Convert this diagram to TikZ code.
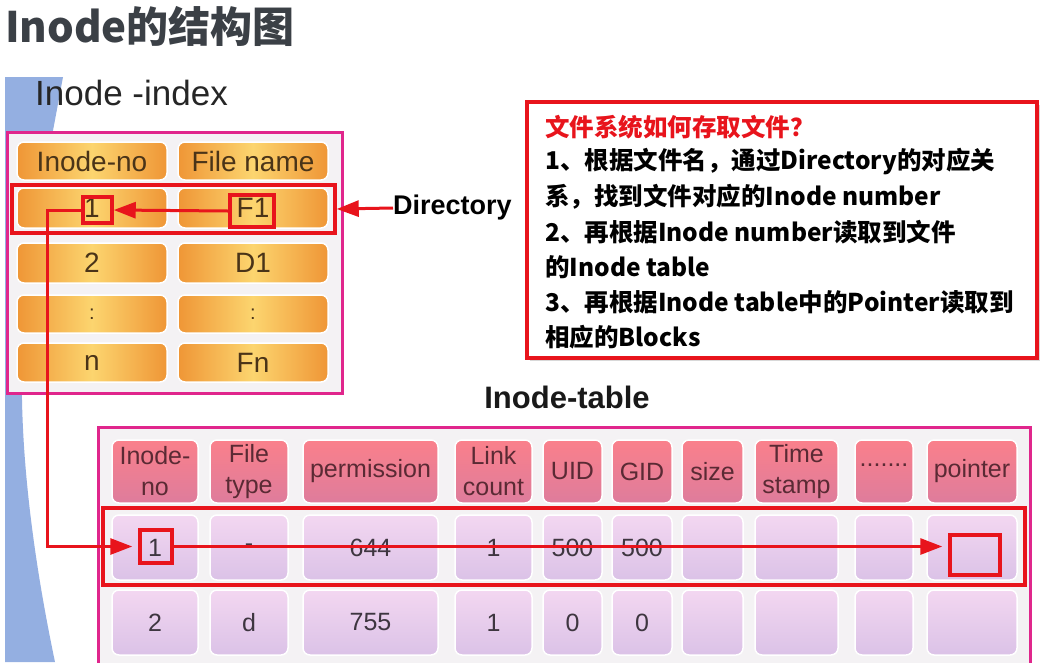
\documentclass[tikz,border=0pt]{standalone}
\usepackage{fontspec}
\setmainfont{Liberation Sans}
\newfontfamily\cjk{Noto Sans CJK SC}
\usetikzlibrary{arrows.meta,shadows}
\definecolor{magB}{HTML}{E0268C}
\definecolor{redA}{HTML}{E8141C}
\definecolor{orA}{HTML}{EF9636}
\definecolor{orB}{HTML}{FCD56F}
\definecolor{pkA}{HTML}{FA808B}
\definecolor{pkB}{HTML}{DE7C9C}
\definecolor{lvA}{HTML}{F3D7F1}
\definecolor{lvB}{HTML}{DBC2E7}
\definecolor{blueS}{HTML}{94AFE1}
\definecolor{titleC}{HTML}{3B4046}
\definecolor{brownT}{HTML}{4A3418}
\definecolor{hdrT}{HTML}{5A2A34}
\definecolor{datT}{HTML}{3E3640}
\definecolor{panel}{HTML}{F4F2F4}
\begin{document}
\begin{tikzpicture}[x=1pt,y=-1pt,
  magbox/.style={draw=magB, line width=3, fill=panel},
  cellbase/.style={rounded corners=7, draw=white, line width=1.5, inner sep=0, align=center},
  ocell/.style={cellbase, left color=orA, right color=orA, middle color=orB, text=brownT, font=\fontsize{28}{30}\selectfont, minimum width=150},
  hcell/.style={cellbase, top color=pkA, bottom color=pkB, text=hdrT, font=\fontsize{25}{31}\selectfont, minimum height=63},
  dcell/.style={cellbase, top color=lvA, bottom color=lvB, text=datT, font=\fontsize{25}{30}\selectfont, minimum height=65},
  redbox/.style={draw=redA, line width=3.5, inner sep=0},
  redarrow/.style={draw=redA, line width=3, -{Triangle[length=22pt,width=16pt]}},
  cnline/.style={anchor=west, inner sep=0, font=\cjk\bfseries\fontsize{24.5}{28}\selectfont}
]
\useasboundingbox (0,0) rectangle (1048,662);
\clip (0,0) rectangle (1048,662);
\fill[white] (0,0) rectangle (1048,662);
% blue strip
\fill[blueS] (5,77) -- (63,77) .. controls (42,190) and (20,300) .. (22,400) .. controls (24,500) and (42,600) .. (55,662) -- (5,662) -- cycle;
% title
\node[anchor=west, inner sep=0, text=titleC, font=\cjk\bfseries\fontsize{42}{46}\selectfont] (title) at (5,26) {Inode的结构图};
% Inode-index
\node[anchor=west, inner sep=0, text=black!85, font=\fontsize{35}{38}\selectfont] (idxlabel) at (35,93) {Inode -index};
\node[magbox, minimum width=335, minimum height=261, inner sep=0] (idxbox) at (174.5,262.5) {};
\node[ocell, minimum height=38] (h1) at (92,161) {Inode-no};
\node[ocell, minimum height=38] (h2) at (253,161) {File name};
\node[ocell, minimum height=40] (r1a) at (92,208) {1};
\node[ocell, minimum height=40] (r1b) at (253,208) {F1};
\node[ocell, minimum height=40] (r2a) at (92,263) {2};
\node[ocell, minimum height=40] (r2b) at (253,263) {D1};
\node[ocell, minimum height=38, font=\fontsize{20}{22}\selectfont] (r3a) at (92,314) {:};
\node[ocell, minimum height=38, font=\fontsize{20}{22}\selectfont] (r3b) at (253,314) {:};
\node[ocell, minimum height=39] (r4a) at (92,362.5) {n};
\node[ocell, minimum height=39] (r4b) at (253,362.5) {Fn};
% highlights in index
\node[redbox, minimum width=323, minimum height=48] (dirrow) at (173.5,209) {};
\node[redbox, minimum width=29, minimum height=26] (b1) at (97.5,210) {};
\node[redbox, minimum width=44, minimum height=32] (bF1) at (252,211) {};
\node[anchor=west, inner sep=0, font=\bfseries\fontsize{27}{30}\selectfont] (dir) at (393,208) {Directory};
% text box
\node[draw=redA, line width=4, fill=white, minimum width=510, minimum height=256, inner sep=0,
      drop shadow={opacity=0.3, shadow xshift=3pt, shadow yshift=-3pt}] (tbox) at (782,230) {};
\node[cnline, text=redA] (t1) at (545,127) {文件系统如何存取文件？};
\node[cnline] (t2) at (545,162) {1、根据文件名，通过Directory的对应关};
\node[cnline] (t3) at (545,197) {系，找到文件对应的Inode number};
\node[cnline] (t4) at (545,232) {2、再根据Inode number读取到文件};
\node[cnline] (t5) at (545,267) {的Inode table};
\node[cnline] (t6) at (545,302) {3、再根据Inode table中的Pointer读取到};
\node[cnline] (t7) at (545,337) {相应的Blocks};
% Inode-table
\node[inner sep=0, font=\bfseries\fontsize{31}{34}\selectfont, text=black!90] (tbllabel) at (567,397) {Inode-table};
\node[magbox, minimum width=932, minimum height=245, inner sep=0] (tblbox) at (564,550) {};
% header
\node[hcell, minimum width=86] (c1) at (155,471.5) {Inode-\\no};
\node[hcell, minimum width=78] (c2) at (249,471.5) {File\\type};
\node[hcell, minimum width=135] (c3) at (370.5,471.5) {permission};
\node[hcell, minimum width=77] (c4) at (493.5,471.5) {Link\\count};
\node[hcell, minimum width=59] (c5) at (572.5,471.5) {UID};
\node[hcell, minimum width=60] (c6) at (642,471.5) {GID};
\node[hcell, minimum width=61] (c7) at (712.5,471.5) {size};
\node[hcell, minimum width=83] (c8) at (796.5,471.5) {Time\\stamp};
\node[hcell, minimum width=58] (c9) at (884,471.5) {\raisebox{12pt}{.......}};
\node[hcell, minimum width=90] (c10) at (972,471.5) {pointer};
% row 1
\node[dcell, minimum width=86] (d1) at (155,547.5) {1};
\node[dcell, minimum width=78] (d2) at (249,547.5) {-};
\node[dcell, minimum width=135] (d3) at (370.5,547.5) {644};
\node[dcell, minimum width=77] (d4) at (493.5,547.5) {1};
\node[dcell, minimum width=59] (d5) at (572.5,547.5) {500};
\node[dcell, minimum width=60] (d6) at (642,547.5) {500};
\node[dcell, minimum width=61] (d7) at (712.5,547.5) {};
\node[dcell, minimum width=83] (d8) at (796.5,547.5) {};
\node[dcell, minimum width=58] (d9) at (884,547.5) {};
\node[dcell, minimum width=90] (d10) at (972,547.5) {};
% row 2
\node[dcell, minimum width=86] (e1) at (155,622.5) {2};
\node[dcell, minimum width=78] (e2) at (249,622.5) {d};
\node[dcell, minimum width=135] (e3) at (370.5,622.5) {755};
\node[dcell, minimum width=77] (e4) at (493.5,622.5) {1};
\node[dcell, minimum width=59] (e5) at (572.5,622.5) {0};
\node[dcell, minimum width=60] (e6) at (642,622.5) {0};
\node[dcell, minimum width=61] (e7) at (712.5,622.5) {};
\node[dcell, minimum width=83] (e8) at (796.5,622.5) {};
\node[dcell, minimum width=58] (e9) at (884,622.5) {};
\node[dcell, minimum width=90] (e10) at (972,622.5) {};
% highlights in table
\node[redbox, minimum width=922, minimum height=77] (tblrow) at (564,546.5) {};
\node[redbox, minimum width=32, minimum height=33] (tb1) at (156,546.5) {};
\node[redbox, minimum width=50, minimum height=40] (pbox) at (975,555) {};
% connectors
\coordinate (turn) at (47,0);
\draw[redarrow] (bF1.west) -- (b1.east);
\draw[redarrow] (dir.west) -- (dirrow.east);
\draw[redarrow, shorten >=6pt] (b1.west) -| (turn |- tb1.west) -- (tb1.west);
\draw[redarrow, shorten >=6pt] (tb1.east) -- (pbox.west |- tb1.east);
\end{tikzpicture}
\end{document}
